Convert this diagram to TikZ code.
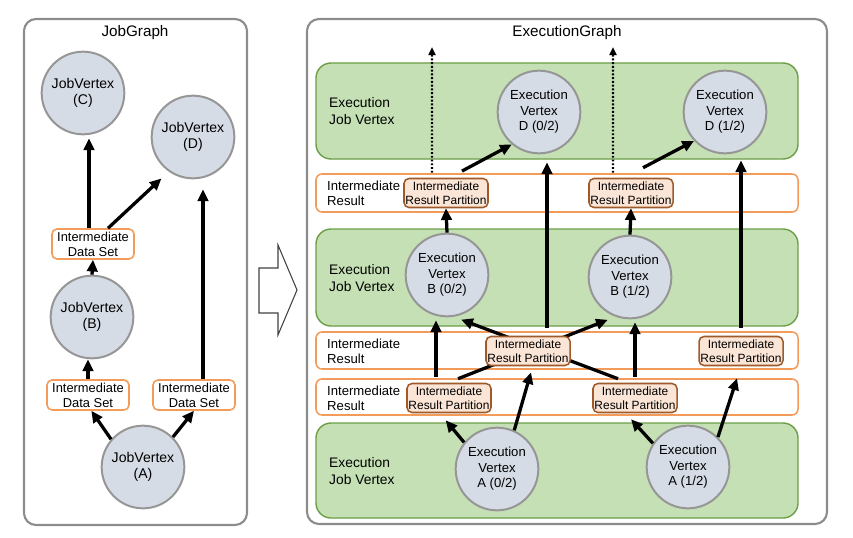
\documentclass[tikz,border=0pt]{standalone}
\usepackage{fontspec}
\setmainfont{Liberation Sans}
\usetikzlibrary{arrows.meta}
\definecolor{panelgray}{HTML}{8C8C8C}
\definecolor{vertfill}{HTML}{D6DCE5}
\definecolor{vertgray}{HTML}{969696}
\definecolor{jobgreen}{HTML}{C5E0B4}
\definecolor{bandgreen}{HTML}{6B9E46}
\definecolor{resorange}{HTML}{F29B5A}
\definecolor{partfill}{HTML}{FBE5D6}
\definecolor{partbrown}{HTML}{9E5A2A}
\definecolor{hollowgray}{HTML}{404040}

\begin{document}
\begin{tikzpicture}[x=0.03cm,y=-0.03cm,>={Triangle[length=10pt,width=9pt]},
  panel/.style={draw=panelgray,line width=1.8pt,rounded corners=0.36cm},
  title/.style={font=\fontsize{13}{15}\selectfont},
  jobband/.style={draw=bandgreen,fill=jobgreen,line width=1.2pt,rounded corners=0.45cm},
  resband/.style={draw=resorange,fill=white,line width=1.3pt,rounded corners=0.18cm},
  vert/.style={circle,draw=vertgray,fill=vertfill,line width=1.7pt,minimum size=2.48cm,inner sep=0pt,align=center},
  jv/.style={vert,font=\fontsize{12}{13.5}\selectfont},
  ev/.style={vert,font=\fontsize{11.2}{13.3}\selectfont},
  ids/.style={draw=resorange,fill=white,line width=1.3pt,rounded corners=0.15cm,minimum width=2.46cm,minimum height=0.9cm,inner sep=1pt,align=center,font=\fontsize{11}{12.8}\selectfont},
  irp/.style={draw=partbrown,fill=partfill,line width=1.3pt,rounded corners=0.15cm,minimum width=2.52cm,minimum height=0.87cm,inner sep=1pt,align=center,font=\fontsize{10.2}{12}\selectfont},
  lbl/.style={anchor=west,align=left,inner sep=0pt},
  flow/.style={->,line width=2.8pt},
  dotflow/.style={-{Triangle[length=7pt,width=6pt]},line width=1.8pt,dash pattern=on 1.6pt off 1.6pt}]
\useasboundingbox (0,0) rectangle (853,537);
\draw[panel] (24,19) rectangle (247,525);
\draw[panel] (307,19) rectangle (827,524);
\node[title] (jgtitle) at (135,33) {JobGraph};
\node[title] (egtitle) at (567,33) {ExecutionGraph};

\node[jv] (jvc) at (83,93) {JobVertex\\(C)};
\node[jv] (jvd) at (193,137) {JobVertex\\(D)};
\node[ids] (idsc) at (93,244) {Intermediate\\Data Set};
\node[jv] (jvb) at (92,317) {JobVertex\\(B)};
\node[ids] (idsb) at (88,395) {Intermediate\\Data Set};
\node[ids] (idsd) at (194,395) {Intermediate\\Data Set};
\node[jv] (jva) at (143,467) {JobVertex\\(A)};
\draw[flow] (jva.139) -- ([xshift=0.1cm]idsb.south);
\draw[flow] (jva.45) -- (idsd.south);
\draw[flow] (idsb.north) -- (idsb.north |- jvb.south);
\draw[flow] (jvb.north) -- (idsc.south);
\draw[flow,shorten >=0.09cm] ([xshift=-0.12cm]idsc.north) -- ([xshift=-0.12cm]idsc.north |- jvc.south);
\draw[flow,shorten >=0.3cm] ([xshift=0.45cm]idsc.north) -- (jvd.235);
\draw[flow,shorten >=0.3cm] ([xshift=0.27cm]idsd.north) -- ([xshift=0.27cm]idsd.north |- jvd.south);

\draw[draw=hollowgray,line width=0.9pt] (259,268) -- (278,268) -- (278,245) -- (297,290) -- (278,335) -- (278,313) -- (259,313) -- cycle;

\foreach \t/\b in {63/159,229/326,423/518} \draw[jobband] (316,\t) rectangle (798,\b);
\foreach \t/\b in {174/212,332/369,379/415} \draw[resband] (316,\t) rectangle (798,\b);
\foreach \y [count=\i] in {111,278,471}
  \node[lbl,font=\fontsize{11.8}{14.5}\selectfont] (ejv\i) at (329,\y) {Execution\\Job Vertex};
\foreach \y [count=\i] in {193,351,398}
  \node[lbl,font=\fontsize{11.2}{13}\selectfont] (ires\i) at (327,\y) {Intermediate\\Result};

\node[ev] (evd0) at (539,112) {Execution\\Vertex\\D (0/2)};
\node[ev] (evd1) at (725,112) {Execution\\Vertex\\D (1/2)};
\node[ev] (evb0) at (447,275) {Execution\\Vertex\\B (0/2)};
\node[ev] (evb1) at (630,277) {Execution\\Vertex\\B (1/2)};
\node[ev] (eva0) at (497,469) {Execution\\Vertex\\A (0/2)};
\node[ev] (eva1) at (688,467) {Execution\\Vertex\\A (1/2)};
\node[irp] (pb0) at (446,193) {Intermediate\\Result Partition};
\node[irp] (pb1) at (631,193) {Intermediate\\Result Partition};
\node[irp] (pa0) at (449,398) {Intermediate\\Result Partition};
\node[irp] (pa1) at (635,398) {Intermediate\\Result Partition};
\draw[flow,shorten >=0.25cm] ([xshift=0.27cm,yshift=0.12cm]pa0.north) -- (evb1.250);
\draw[flow,shorten >=0.24cm] ([xshift=-0.51cm,yshift=0.12cm]pa1.north) -- (evb0.279);
\node[irp] (pa0d) at (528,351) {Intermediate\\Result Partition};
\node[irp] (pa1d) at (741,351) {Intermediate\\Result Partition};

\coordinate (outc0) at (432,47);
\coordinate (outc1) at (613,47);
\draw[dotflow] ([xshift=-0.42cm,yshift=0.15cm]pb0.north) -- (outc0);
\draw[dotflow] ([xshift=-0.54cm,yshift=0.15cm]pb1.north) -- (outc1);
\draw[flow] ([xshift=0.48cm,yshift=0.2cm]pb0.north) -- (evd0.230);
\draw[flow] ([xshift=0.36cm,yshift=0.3cm]pb1.north) -- (evd1.223);
\draw[flow] (evb0.north) -- (pb0.south);
\draw[flow] (evb1.north) -- (pb1.south);
\draw[flow,shorten >=0.09cm] ([xshift=-0.39cm,yshift=0.18cm]pa0.north) -- ([xshift=-0.39cm]pa0.north |- evb0.south);
\draw[flow,shorten >=0.09cm] ([yshift=0.18cm]pa1.north) -- (pa1.north |- evb1.south);
\draw[flow,shorten >=0.24cm] ([xshift=0.57cm,yshift=0.24cm]pa0d.north) -- ([xshift=0.57cm]pa0d.north |- evd0.south);
\draw[flow,shorten >=0.18cm] ([yshift=0.24cm]pa1d.north) -- (pa1d.north |- evd1.south);
\draw[flow] (eva0.141) -- ([xshift=-0.1cm,yshift=-0.21cm]pa0.south);
\draw[flow] (eva0.66) -- ([xshift=0.09cm,yshift=-0.18cm]pa0d.south);
\draw[flow] (eva1.146) -- ([xshift=-0.12cm,yshift=-0.18cm]pa1.south);
\draw[flow] (eva1.45) -- ([xshift=-0.12cm,yshift=-0.36cm]pa1d.south);
\end{tikzpicture}
\end{document}
